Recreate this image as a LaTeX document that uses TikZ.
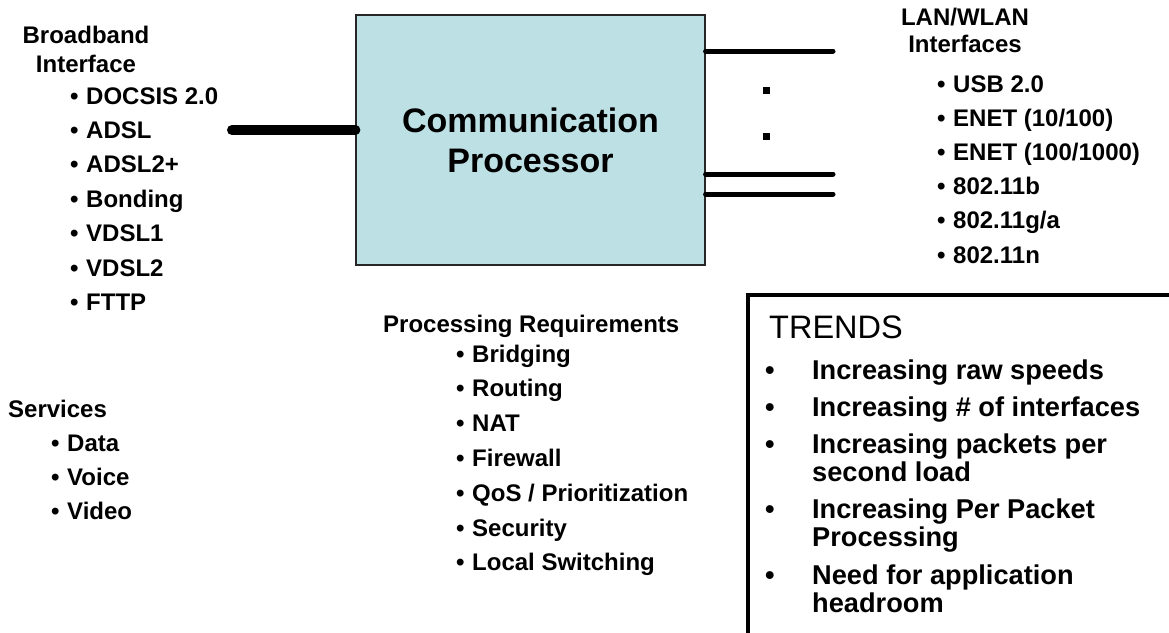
\documentclass[tikz,border=0pt]{standalone}
\usepackage{fontspec}
\setmainfont{Liberation Sans}
\usetikzlibrary{positioning, calc}

\definecolor{cpublue}{RGB}{188,224,227}

\begin{document}
\begin{tikzpicture}[
    x=1pt, y=-1pt,
    % Text styles
    head/.style={font=\fontsize{24}{28}\selectfont\bfseries, inner sep=0pt, anchor=base},
    listhead/.style={head, anchor=base west},
    item/.style={font=\fontsize{24}{28}\selectfont\bfseries, inner sep=0pt, anchor=base west},
    trenditem/.style={font=\fontsize{27.2}{28}\selectfont\bfseries, inner sep=0pt, anchor=base west},
    trendtitle/.style={font=\fontsize{32.5}{36}\selectfont, inner sep=0pt, anchor=base west},
    % Box and line styles
    cpubox/.style={draw=black!85, line width=1.2pt, fill=cpublue, inner sep=0pt,
                   minimum width=349pt, minimum height=250pt, align=center,
                   font=\fontsize{34}{40}\selectfont\bfseries},
    busline/.style={line width=10pt, line cap=round},
    portline/.style={line width=5pt, line cap=round},
    dotsq/.style={fill=black, minimum size=7pt, inner sep=0pt},
    trendframe/.style={line width=3.5pt}
]

\useasboundingbox (0,0) rectangle (1169,632);

% Communication processor
\node[cpubox] (cpu) at (530.5,140) {Communication\\Processor};

% Broadband side
\node[head] (bbhead) at (86,43) {Broadband};
\node[head] (bbhead2) at (86,72) {Interface};
\foreach \t [count=\i] in {DOCSIS 2.0, ADSL, ADSL2+, Bonding, VDSL1, VDSL2, FTTP}
    \node[item] (bb\i) at (70,69.6+34.4*\i) {\makebox[16pt][l]{•}\t};

\coordinate (bbend) at (232,130);
\draw[busline] (bbend) -- (bbend -| cpu.west);

% LAN/WLAN side
\foreach \y [count=\i] in {51,174,194} {
    \coordinate (lan\i) at (833,\y);
    \draw[portline] (cpu.east |- lan\i) -- (lan\i);
}
\node[dotsq] (dot1) at (766,90) {};
\node[dotsq] (dot2) at (766,136.5) {};

\node[head] (lanhead) at (965,25) {LAN/WLAN};
\node[head] (lanhead2) at (965,52) {Interfaces};
\foreach \t [count=\i] in {USB 2.0, ENET (10/100), ENET (100/1000), 802.11b, 802.11g/a, 802.11n}
    \node[item] (lanitem\i) at (937,58.4+34.1*\i) {\makebox[16pt][l]{•}\t};

% Processing requirements
\node[listhead] (prochead) at (383,332) {Processing Requirements};
\foreach \t [count=\i] in {Bridging, Routing, NAT, Firewall, QoS / Prioritization, Security, Local Switching}
    \node[item] (proc\i) at (456,327.2+34.8*\i) {\makebox[16pt][l]{•}\t};

% Services
\node[listhead] (svchead) at (8,417) {Services};
\foreach \t [count=\i] in {Data, Voice, Video}
    \node[item] (svc\i) at (51,417+34*\i) {\makebox[16pt][l]{•}\t};

% Trends box
\draw[trendframe] (748,650) |- (1190,295);
\node[trendtitle] (trendhead) at (769,338) {TRENDS};
\foreach \y/\t [count=\i] in {379/Increasing raw speeds, 416/Increasing \# of interfaces,
                              453/Increasing packets per, 518/Increasing Per Packet,
                              584/Need for application}
    \node[trenditem] (trend\i) at (765,\y) {\makebox[47pt][l]{•}\t};
\node[trenditem] (trend3b) at ($(trend3.base west)+(47,28)$) {second load};
\node[trenditem] (trend4b) at ($(trend4.base west)+(47,28)$) {Processing};
\node[trenditem] (trend5b) at ($(trend5.base west)+(47,28)$) {headroom};

\end{tikzpicture}
\end{document}
